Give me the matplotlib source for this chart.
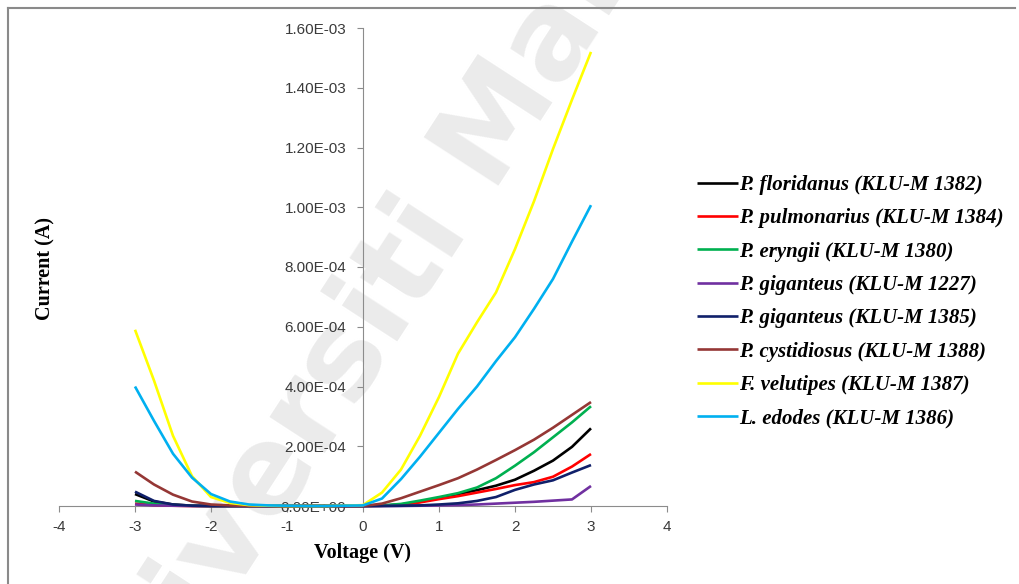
import numpy as np
import matplotlib
matplotlib.use('Agg')
import matplotlib.pyplot as plt
from matplotlib.lines import Line2D

# voltage steps (V)
volts = [-3, -2.75, -2.5, -2.25, -2, -1.75, -1.5, -1.25, -1, -0.75, -0.5, -0.25,
         0, 0.25, 0.5, 0.75, 1, 1.25, 1.5, 1.75, 2, 2.25, 2.5, 2.75, 3]

# currents, in units of 1e-4 A
floridanus = [0.40, 0.15, 0.05, 0.01, 0, 0, 0, 0, 0, 0, 0, 0,
              0, 0.01, 0.05, 0.14, 0.27, 0.40, 0.53, 0.68, 0.88, 1.18, 1.52, 1.98, 2.60]
pulmonarius = [0.08, 0.03, 0.01, 0, 0, 0, 0, 0, 0, 0, 0, 0,
               0, 0.01, 0.04, 0.12, 0.23, 0.33, 0.45, 0.57, 0.70, 0.80, 0.98, 1.32, 1.74]
eryngii = [0.17, 0.08, 0.03, 0.01, 0, 0, 0, 0, 0, 0, 0, 0,
           0, 0.02, 0.07, 0.18, 0.30, 0.43, 0.62, 0.93, 1.35, 1.80, 2.30, 2.80, 3.34]
giganteus_1227 = [0.05, 0.02, 0.01, 0, 0, 0, 0, 0, 0, 0, 0, 0,
                  0, 0, 0, 0.01, 0.02, 0.03, 0.05, 0.08, 0.11, 0.14, 0.18, 0.22, 0.67]
giganteus_1385 = [0.48, 0.17, 0.05, 0.01, 0, 0, 0, 0, 0, 0, 0, 0,
                  0, 0, 0.01, 0.02, 0.05, 0.09, 0.17, 0.30, 0.54, 0.72, 0.86, 1.12, 1.37]
cystidiosus = [1.15, 0.72, 0.38, 0.15, 0.05, 0.02, 0, 0, 0, 0, 0, 0,
               0, 0.08, 0.26, 0.48, 0.70, 0.93, 1.22, 1.54, 1.87, 2.22, 2.62, 3.05, 3.48]
velutipes = [5.90, 4.20, 2.35, 1.00, 0.30, 0.10, 0.03, 0.01, 0, 0, 0, 0.01,
             0.03, 0.45, 1.22, 2.35, 3.65, 5.10, 6.15, 7.15, 8.60, 10.20, 11.95, 13.60, 15.20]
edodes = [4.00, 2.85, 1.75, 0.95, 0.40, 0.15, 0.05, 0.02, 0.01, 0, 0, 0.01,
          0.02, 0.25, 0.90, 1.65, 2.45, 3.25, 4.00, 4.85, 5.65, 6.60, 7.60, 8.85, 10.07]

labels = ["P. floridanus (KLU-M 1382)", "P. pulmonarius (KLU-M 1384)",
          "P. eryngii (KLU-M 1380)", "P. giganteus (KLU-M 1227)",
          "P. giganteus (KLU-M 1385)", "P. cystidiosus (KLU-M 1388)",
          "F. velutipes (KLU-M 1387)", "L. edodes (KLU-M 1386)"]
series = [floridanus, pulmonarius, eryngii, giganteus_1227,
          giganteus_1385, cystidiosus, velutipes, edodes]
colors = ["#000000", "#ff0000", "#00b050", "#7030a0",
          "#10206a", "#953735", "#ffff00", "#00b0f0"]

xticks = [-4, -3, -2, -1, 0, 1, 2, 3, 4]
yticks = [0, 2e-4, 4e-4, 6e-4, 8e-4, 1e-3, 1.2e-3, 1.4e-3, 1.6e-3]

W, H = 1019, 584
fig = plt.figure(figsize=(W / 100, H / 100), dpi=100)

# watermark behind everything
fig.text(405 / W, 1 - 270 / H, "Universiti Malaya", rotation=57,
         ha="center", va="center", fontsize=88, color="#ebebeb",
         family="DejaVu Sans", fontweight="bold", zorder=-5)

# outer frame (left + top)
fig.add_artist(Line2D([8 / W, 8 / W], [0, 1 - 8 / H], color="#8a8a8a", lw=1.5))
fig.add_artist(Line2D([8 / W, 1015 / W], [1 - 8 / H, 1 - 8 / H], color="#8a8a8a", lw=1.5))

ax = fig.add_axes([59 / W, 1 - 506 / H, (667 - 59) / W, (506 - 28) / H])
ax.patch.set_alpha(0)

lines = []
for ys, lab, c in zip(series, labels, colors):
    ln, = ax.plot(volts, np.array(ys) * 1e-4, color=c, lw=1.9, label=lab,
                  solid_capstyle="butt", clip_on=False)
    lines.append(ln)

ax.set_xlim(-4, 4)
ax.set_ylim(0, 1.6e-3)

for s in ["top", "right"]:
    ax.spines[s].set_visible(False)
ax.spines["left"].set_position(("data", 0))
ax.spines["left"].set_color("#8c8c8c")
ax.spines["bottom"].set_color("#8c8c8c")
ax.spines["left"].set_zorder(0.5)
ax.spines["bottom"].set_zorder(0.5)

ax.set_xticks(xticks)
ax.set_xticklabels([str(v) for v in xticks])
ax.set_yticks(yticks)
ax.set_yticklabels([f"{v:.2E}" for v in yticks])
ax.tick_params(axis="both", colors="#8c8c8c", labelcolor="#3a3a3a",
               labelsize=11, length=4, direction="out")
ax.tick_params(axis="x", pad=6)
ax.tick_params(axis="y", pad=8)
for t in ax.get_xticklabels() + ax.get_yticklabels():
    t.set_family("Liberation Sans")

fig.text(45 / W, 1 - 268 / H, "Current (A)", rotation=90, ha="center", va="center",
         fontsize=14.5, fontweight="bold", family="Liberation Serif")
fig.text(362 / W, 1 - 553 / H, "Voltage (V)", ha="center", va="center",
         fontsize=14.5, fontweight="bold", family="Liberation Serif")

fig.legend(handles=lines, loc="upper left", bbox_to_anchor=(697 / W, 1 - 175 / H),
           frameon=False, borderpad=0, borderaxespad=0, handlelength=1.95,
           handletextpad=0.08, labelspacing=0.64,
           prop={"family": "Liberation Serif", "weight": "bold",
                 "style": "italic", "size": 15})

fig.savefig("out.png", dpi=100)
